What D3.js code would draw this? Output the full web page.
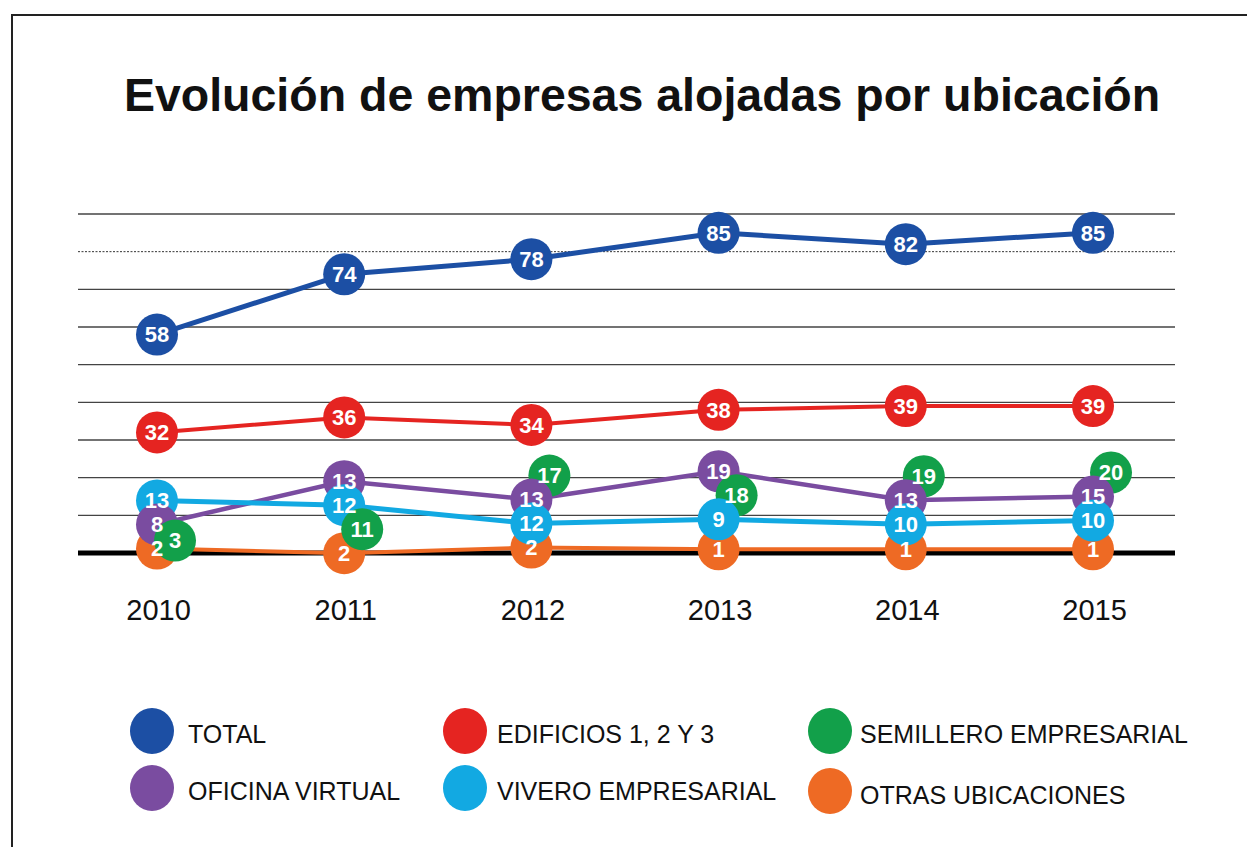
<!DOCTYPE html>
<html>
<head>
<meta charset="utf-8">
<script src="https://cdn.jsdelivr.net/npm/d3@7"></script>
<style>
  html, body { margin: 0; padding: 0; background: #ffffff; }
  svg { display: block; }
  text { font-family: "Liberation Sans", Arial, Helvetica, sans-serif; }
</style>
</head>
<body>
<svg id="chart" width="1247" height="847"></svg>
<script>
// ---------- DATA ----------
const titleText = "Evolución de empresas alojadas por ubicación";
const years = ["2010", "2011", "2012", "2013", "2014", "2015"];
const total      = [58, 74, 78, 85, 82, 85];
const edificios  = [32, 36, 34, 38, 39, 39];
const semillero  = [3, 11, 17, 18, 19, 20];
const oficina    = [8, 13, 13, 19, 13, 15];
const vivero     = [13, 12, 12, 9, 10, 10];
const otras      = [2, 2, 2, 1, 1, 1];
const gridValues = [10, 20, 30, 40, 50, 60, 70, 80, 90];
const seriesNames = ["TOTAL", "EDIFICIOS 1, 2 Y 3", "SEMILLERO EMPRESARIAL",
                     "OFICINA VIRTUAL", "VIVERO EMPRESARIAL", "OTRAS UBICACIONES"];

// ---------- STYLE ----------
const colors = {
  "TOTAL": "#1c4fa4",
  "EDIFICIOS 1, 2 Y 3": "#e52421",
  "SEMILLERO EMPRESARIAL": "#12a04a",
  "OFICINA VIRTUAL": "#7a4ca0",
  "VIVERO EMPRESARIAL": "#12a9e2",
  "OTRAS UBICACIONES": "#ee6a24"
};
const seriesValues = {
  "TOTAL": total,
  "EDIFICIOS 1, 2 Y 3": edificios,
  "SEMILLERO EMPRESARIAL": semillero,
  "OFICINA VIRTUAL": oficina,
  "VIVERO EMPRESARIAL": vivero,
  "OTRAS UBICACIONES": otras
};
const lineWidth = {
  "TOTAL": 5, "EDIFICIOS 1, 2 Y 3": 4, "SEMILLERO EMPRESARIAL": 0,
  "OFICINA VIRTUAL": 4.5, "VIVERO EMPRESARIAL": 5, "OTRAS UBICACIONES": 4
};
const xShift = { "SEMILLERO EMPRESARIAL": 18 };
const lineOrder = ["TOTAL", "EDIFICIOS 1, 2 Y 3", "OFICINA VIRTUAL",
                   "VIVERO EMPRESARIAL", "OTRAS UBICACIONES"];
const R = 21;
const SEP = 24;      // min vertical gap when labels would collide
const MINSEP = 8;    // min vertical gap otherwise
const LABEL_FS = 22;

const svg = d3.select("#chart");

// frame
svg.append("rect")
  .attr("x", 12).attr("y", 15)
  .attr("width", 1260).attr("height", 860)
  .attr("fill", "none").attr("stroke", "#222").attr("stroke-width", 2);

// title
svg.append("text")
  .attr("x", 642).attr("y", 111)
  .attr("text-anchor", "middle")
  .attr("font-size", 46.5).attr("font-weight", "bold")
  .attr("fill", "#111")
  .text(titleText);

// scales
const x = d3.scalePoint().domain(years).range([157, 1093]);
const y = d3.scaleLinear().domain([0, 90]).range([553, 214]);
const gridX0 = 78, gridX1 = 1175;

// gridlines
svg.append("g").selectAll("line")
  .data(gridValues).join("line")
  .attr("x1", gridX0).attr("x2", gridX1)
  .attr("y1", d => y(d)).attr("y2", d => y(d))
  .attr("stroke", d => d === 80 ? "#333" : "#444")
  .attr("stroke-width", d => d === 80 ? 1 : 1.3)
  .attr("stroke-dasharray", d => d === 80 ? "2,1.5" : null);

// baseline
svg.append("line")
  .attr("x1", gridX0).attr("x2", gridX1)
  .attr("y1", y(0)).attr("y2", y(0))
  .attr("stroke", "#000").attr("stroke-width", 5);

// x axis labels
const xAxis = d3.axisBottom(x).tickSize(0).tickPadding(0);
const gx = svg.append("g").attr("transform", `translate(1, 599)`).call(xAxis);
gx.select(".domain").remove();
gx.selectAll("text")
  .attr("font-size", 29).attr("fill", "#111")
  .attr("dy", "0.71em")
  .style("font-family", '"Liberation Sans", Arial, sans-serif');

// ---------- positions: scale value, then relax overlapping labels per year ----------
const labelW = v => String(v).length * LABEL_FS * 0.556;
const pos = {};
const allNodes = [];
seriesNames.forEach(s => pos[s] = []);
years.forEach((yr, i) => {
  const nodes = seriesNames.map((s, k) => {
    const v = seriesValues[s][i];
    return { s, k, v, x: x(yr) + (xShift[s] || 0), y0: y(v), y: y(v) };
  });
  nodes.sort((a, b) => a.y0 - b.y0 || a.k - b.k);
  const req = (a, b) =>
    Math.abs(a.x - b.x) < (labelW(a.v) + labelW(b.v)) / 2 + 2 ? SEP : MINSEP;
  for (let it = 0; it < 400; it++) {
    for (let p = 0; p < nodes.length; p++) {
      for (let q = p + 1; q < nodes.length; q++) {
        const a = nodes[p], b = nodes[q];
        const r = req(a, b), d = b.y - a.y;
        if (d < r) { const dl = (r - d) / 2; a.y -= dl; b.y += dl; }
      }
    }
  }
  nodes.forEach(n => {
    const p = { s: n.s, x: n.x, y: n.y, v: n.v };
    pos[n.s][i] = p;
    allNodes.push(p);
  });
});

// lines
const lineGen = d3.line().x(d => d.x).y(d => d.y);
const plot = svg.append("g");
lineOrder.forEach(s => {
  plot.append("path")
    .datum(pos[s])
    .attr("d", lineGen)
    .attr("fill", "none")
    .attr("stroke", colors[s])
    .attr("stroke-width", lineWidth[s])
    .attr("stroke-linejoin", "round");
});

// circles: "otras" at the back, the rest stacked with lower circles in front
const circleOrder = allNodes.slice().sort((a, b) => {
  const oa = a.s === "OTRAS UBICACIONES" ? 0 : 1;
  const ob = b.s === "OTRAS UBICACIONES" ? 0 : 1;
  return oa - ob || a.y - b.y;
});
plot.append("g").selectAll("circle").data(circleOrder).join("circle")
  .attr("cx", d => d.x).attr("cy", d => d.y)
  .attr("r", R).attr("fill", d => colors[d.s]);
// labels on top
plot.append("g").selectAll("text").data(circleOrder).join("text")
  .attr("x", d => d.x).attr("y", d => d.y)
  .attr("text-anchor", "middle").attr("dy", "0.36em")
  .attr("font-size", LABEL_FS).attr("font-weight", "bold")
  .attr("fill", "#fff")
  .text(d => d.v);

// legend
const legendLayout = [
  { s: "TOTAL", col: 0, row: 0 },
  { s: "EDIFICIOS 1, 2 Y 3", col: 1, row: 0 },
  { s: "SEMILLERO EMPRESARIAL", col: 2, row: 0 },
  { s: "OFICINA VIRTUAL", col: 0, row: 1 },
  { s: "VIVERO EMPRESARIAL", col: 1, row: 1 },
  { s: "OTRAS UBICACIONES", col: 2, row: 1 }
];
const colCircleX = [152, 465, 830];
const colTextX = [188, 497, 860];
const rowCy = [731, 788];
const legend = svg.append("g");
const li = legend.selectAll("g").data(legendLayout).join("g");
li.append("ellipse")
  .attr("cx", d => colCircleX[d.col])
  .attr("cy", d => rowCy[d.row] + (d.col === 2 && d.row === 1 ? 3 : 0))
  .attr("rx", 22).attr("ry", 23)
  .attr("fill", d => colors[d.s]);
li.append("text")
  .attr("x", d => colTextX[d.col])
  .attr("y", d => rowCy[d.row] + 12 + (d.col === 2 && d.row === 1 ? 4 : 0))
  .attr("font-size", 25).attr("fill", "#111")
  .text(d => d.s);
</script>
</body>
</html>
